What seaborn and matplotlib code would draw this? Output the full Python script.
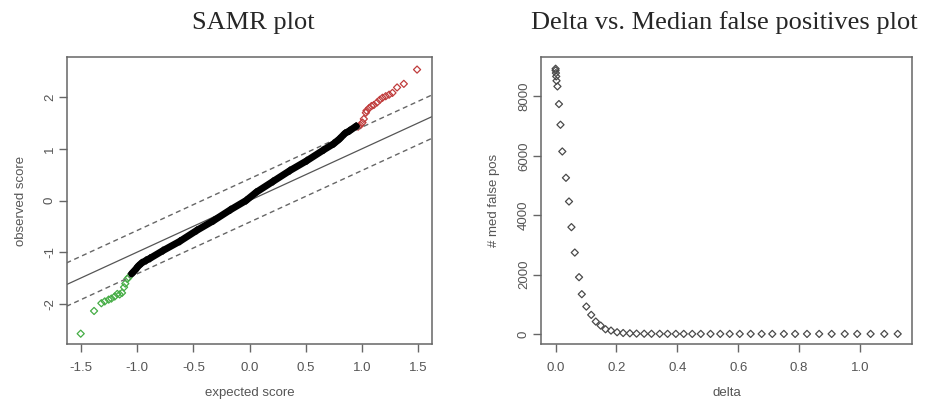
import numpy as np
import pandas as pd
import matplotlib
matplotlib.use("Agg")
import matplotlib.pyplot as plt
import seaborn as sns

# --- SAMR plot: observed vs expected scores ---
null_x = [-1.05, -1.02, -0.99, -0.96, -0.92, -0.886, -0.77, -0.62, -0.47, -0.32, -0.17,
          -0.03, 0.06, 0.21, 0.36, 0.51, 0.66, 0.75, 0.80, 0.85, 0.89, 0.95]
null_y = [-1.42, -1.35, -1.27, -1.21, -1.16, -1.12, -0.97, -0.79, -0.58, -0.39, -0.18,
          0.0, 0.16, 0.37, 0.58, 0.77, 0.98, 1.10, 1.19, 1.30, 1.35, 1.44]

lo_x = [-1.503, -1.384, -1.319, -1.289, -1.254, -1.230, -1.20, -1.177, -1.156, -1.135,
        -1.117, -1.106, -1.088, -1.076]
lo_y = [-2.58, -2.14, -1.99, -1.955, -1.92, -1.90, -1.86, -1.81, -1.82, -1.79,
        -1.68, -1.61, -1.52, -1.49]

up_x = [0.967, 0.988, 1.006, 1.018, 1.036, 1.042, 1.065, 1.086, 1.107, 1.136, 1.160,
        1.184, 1.213, 1.243, 1.273, 1.314, 1.374, 1.492]
up_y = [1.43, 1.46, 1.51, 1.58, 1.70, 1.74, 1.79, 1.83, 1.85, 1.90, 1.95,
        1.99, 2.02, 2.05, 2.085, 2.19, 2.26, 2.536]

ref_x = [-1.7, 1.7]
band = 0.42

# --- Delta vs median false positives ---
delta = [0.0, 0.0, 0.001, 0.002, 0.003, 0.006, 0.011, 0.016, 0.022, 0.034, 0.044,
         0.052, 0.063, 0.077, 0.086, 0.101, 0.117, 0.132, 0.148, 0.164, 0.182, 0.202,
         0.222, 0.244, 0.266, 0.291, 0.315, 0.342, 0.368, 0.395, 0.421, 0.449, 0.477,
         0.509, 0.541, 0.572, 0.605, 0.641, 0.677, 0.712, 0.750, 0.787, 0.826, 0.866,
         0.907, 0.950, 0.991, 1.035, 1.080, 1.124]
med_fp = [8935, 8878, 8789, 8676, 8530, 8339, 7744, 7047, 6147, 5260, 4461,
          3597, 2741, 1911, 1338, 921, 641, 416, 281, 157, 112, 56,
          30, 20, 10, 6, 4, 3, 2, 1, 1, 0, 0,
          0, 0, 0, 0, 0, 0, 0, 0, 0, 0, 0,
          0, 0, 0, 0, 0, 0]

sns.set_style("white")
plt.rcParams["font.family"] = ["Liberation Sans", "DejaVu Sans"]
txt = "#555555"
frame = "#666666"

fig = plt.figure(figsize=(9.25, 4), dpi=100)
ax1 = fig.add_axes([67 / 925, 56 / 400, 365 / 925, 287 / 400])
ax2 = fig.add_axes([541 / 925, 56 / 400, 371 / 925, 287 / 400])

# reference lines
rx = np.array(ref_x)
sns.lineplot(x=rx, y=rx, ax=ax1, color="#555555", lw=0.9)
sns.lineplot(x=rx, y=rx + band, ax=ax1, color="#666666", lw=1.0, linestyle=(0, (3.6, 2.6)))
sns.lineplot(x=rx, y=rx - band, ax=ax1, color="#666666", lw=1.0, linestyle=(0, (3.6, 2.6)))

# dense cloud of non-significant genes
sns.lineplot(x=null_x, y=null_y, ax=ax1, sort=False, color="black", lw=5,
             solid_capstyle="round")
sns.scatterplot(x=null_x, y=null_y, ax=ax1, marker="D", s=13, facecolor="none",
                edgecolor="black", linewidth=0.9)
sns.scatterplot(x=lo_x, y=lo_y, ax=ax1, marker="D", s=13, facecolor="none",
                edgecolor="#45ad45", linewidth=0.9)
sns.scatterplot(x=up_x, y=up_y, ax=ax1, marker="D", s=13, facecolor="none",
                edgecolor="#c03c3c", linewidth=0.9)

ax1.set_xlim(-1.625, 1.625)
ax1.set_ylim(-2.78, 2.78)
ax1.set_xticks([-1.5, -1.0, -0.5, 0.0, 0.5, 1.0, 1.5])
ax1.set_xticklabels(["-1.5", "-1.0", "-0.5", "0.0", "0.5", "1.0", "1.5"])
ax1.set_yticks([-2, -1, 0, 1, 2])
ax1.set_yticklabels(["-2", "-1", "0", "1", "2"])
ax1.set_xlabel("expected score")
ax1.set_ylabel("observed score")

sns.scatterplot(x=delta, y=med_fp, ax=ax2, marker="D", s=13, facecolor="none",
                edgecolor="#4a4a4a", linewidth=0.9)
ax2.set_xlim(-0.048, 1.171)
ax2.set_ylim(-340, 9330)
ax2.set_xticks([0.0, 0.2, 0.4, 0.6, 0.8, 1.0])
ax2.set_xticklabels(["0.0", "0.2", "0.4", "0.6", "0.8", "1.0"])
ax2.set_yticks([0, 2000, 4000, 6000, 8000])
ax2.set_yticklabels(["0", "2000", "4000", "6000", "8000"])
ax2.set_xlabel("delta")
ax2.set_ylabel("# med false pos")

for ax in (ax1, ax2):
    for sp in ax.spines.values():
        sp.set_color(frame)
        sp.set_linewidth(1.1)
    ax.tick_params(axis="both", direction="out", length=6, width=1.0, color=frame,
                   labelcolor=txt, labelsize=9.5, bottom=True, left=True)
    ax.tick_params(axis="x", pad=7)
    ax.tick_params(axis="y", pad=2)
    for lab in ax.get_yticklabels():
        lab.set_rotation(90)
        lab.set_va("center")
    ax.xaxis.label.set_color(txt)
    ax.yaxis.label.set_color(txt)
    ax.xaxis.label.set_size(9.5)
    ax.yaxis.label.set_size(9.5)
    ax.xaxis.set_label_coords(0.5, -0.15)
    ax.yaxis.label.set_va("center")
    ax.yaxis.set_label_coords(-0.126, 0.5)

fig.text(0.274, 0.9275, "SAMR plot", ha="center", va="baseline", fontsize=19,
         family=["Liberation Serif", "DejaVu Serif"])
fig.text(0.783, 0.9275, "Delta vs. Median false positives plot", ha="center",
         va="baseline", fontsize=19, family=["Liberation Serif", "DejaVu Serif"])

fig.savefig("out.png", dpi=100, facecolor="white")
